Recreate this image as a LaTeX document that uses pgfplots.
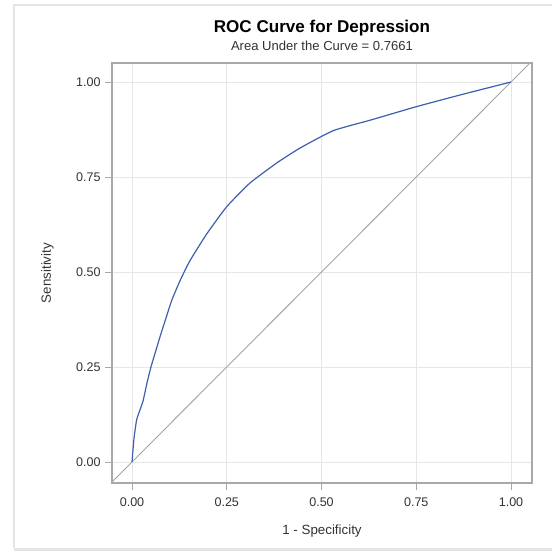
\documentclass[border=0pt]{standalone}
\usepackage{fontspec}
\setmainfont{Liberation Sans}
\usepackage{pgfplots}
\pgfplotsset{compat=1.18}
\definecolor{curveblue}{HTML}{3D5FAD}
\definecolor{refgray}{HTML}{A5A5A5}
\definecolor{gridgray}{HTML}{E6E6E6}
\definecolor{framegray}{HTML}{A8A8A8}
\definecolor{txt}{HTML}{333333}
\definecolor{edge}{HTML}{E2E4E8}

\begin{document}
\begin{tikzpicture}
  % 1 px of the reference = 0.75pt
  \useasboundingbox (0pt,0pt) rectangle (414pt,-413.25pt);
  % outer frame (top, left, bottom band)
  \draw[edge, line width=0.9pt] (414pt,-3.75pt) -- (10.5pt,-3.75pt) -- (10.5pt,-411pt);
  \fill[edge] (10.5pt,-411pt) rectangle (414pt,-413.25pt);

  \begin{axis}[
    at={(84pt,-362.25pt)}, anchor=south west,
    scale only axis,
    width=315pt, height=315pt,
    xmin=-0.0528, xmax=1.0554,
    ymin=-0.0553, ymax=1.05,
    xtick={0,0.25,0.5,0.75,1}, ytick={0,0.25,0.5,0.75,1},
    tick label style={font=\fontsize{9.4}{10}\selectfont, text=txt},
    xticklabel style={yshift=-2.5pt, /pgf/number format/.cd, fixed, fixed zerofill, precision=2},
    yticklabel style={/pgf/number format/.cd, fixed, fixed zerofill, precision=2},
    /pgf/number format/assume math mode=true,
    label style={font=\fontsize{10}{11}\selectfont, text=txt},
    xlabel={1 - Specificity},
    ylabel={Sensitivity},
    xlabel style={yshift=-7pt},
    ylabel style={yshift=10pt},
    grid=major, major grid style={gridgray, line width=0.6pt},
    axis line style={framegray, line width=0.8pt},
    tick style={framegray, line width=0.6pt},
    major tick length=5pt,
    tick align=outside,
    xtick pos=bottom, ytick pos=left,
    clip=true,
  ]
  \addplot[refgray, line width=0.7pt] coordinates {(-0.1,-0.1) (1.1,1.1)};
  \addplot[curveblue, line width=0.9pt, smooth, tension=0.3] coordinates {
    (0,0) (0.005,0.06) (0.012,0.11) (0.022,0.14) (0.029,0.16)
    (0.040,0.21) (0.050,0.25) (0.062,0.29) (0.074,0.33)
    (0.090,0.38) (0.105,0.426) (0.128,0.48) (0.153,0.53)
    (0.197,0.60) (0.25,0.672) (0.311,0.734) (0.382,0.787)
    (0.443,0.826) (0.531,0.872) (0.63,0.90) (0.75,0.935)
    (0.87,0.967) (1,1)
  };
  \end{axis}

  \node[font=\fontsize{12.8}{14}\selectfont\bfseries, text=black] at (241.5pt,-21pt) {ROC Curve for Depression};
  \node[font=\fontsize{9.8}{11}\selectfont, text=txt] at (241.5pt,-34pt) {Area Under the Curve = 0.7661};
\end{tikzpicture}
\end{document}
